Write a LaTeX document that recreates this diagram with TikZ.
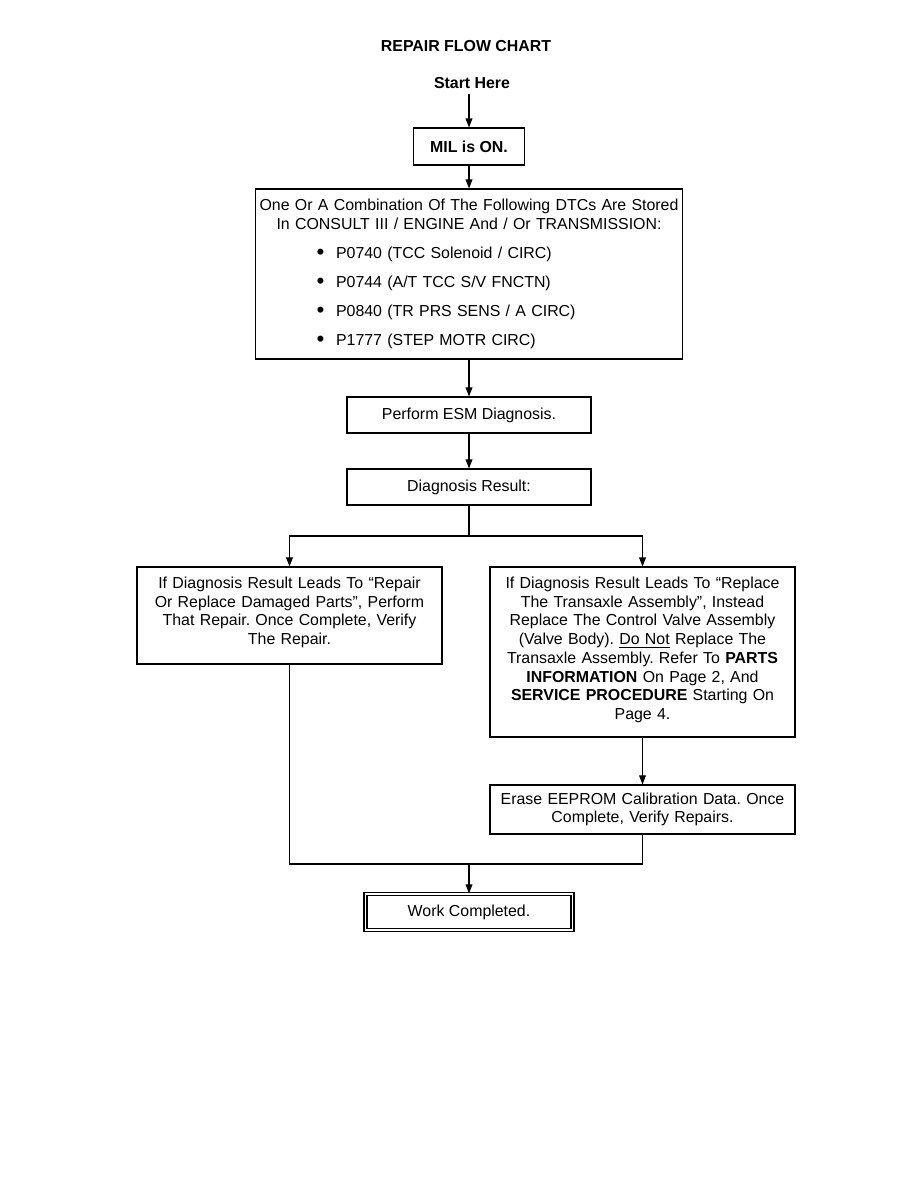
\documentclass[tikz,border=0pt]{standalone}
\usepackage{fontspec}
\setmainfont{Liberation Sans}
\usetikzlibrary{arrows.meta}
\frenchspacing
\begin{document}
\begin{tikzpicture}[node distance=48pt, >={Triangle[length=6pt,width=4.5pt]}, line width=0.75pt, every node/.style={font=\fontsize{10.6}{12.5}\selectfont}]
    \tikzstyle{box} = [rectangle, draw, text centered, inner sep=2pt]
    \tikzstyle{textbox} = [rectangle, draw, text width=200pt, align=center, inner xsep=1.65pt, inner ysep=2pt]
    \tikzstyle{dtcbox} = [rectangle, draw, text width=283pt, inner xsep=0.85pt, inner ysep=2pt]
    \useasboundingbox (0pt,0pt) rectangle (612pt,-792pt);
    \node (title) at (310.67pt,-30.67pt) {\textbf{REPAIR FLOW CHART}};
    \node (start) [below of=title, node distance=24.67pt, xshift=4pt] {\textbf{Start Here}};
    \node (mil) [box, below of=start, node distance=42.33pt, xshift=-2pt, minimum width=74pt, minimum height=24.67pt] {\textbf{MIL is ON.}};
    \node (dtcs) [dtcbox, below of=mil, node distance=85pt, minimum height=113.3pt] {\centering One Or A Combination Of The Following DTCs Are Stored\\In CONSULT III / ENGINE And / Or TRANSMISSION:\par
        \leftskip=39.9pt\rightskip=0pt plus 1fil
        \vspace{6.83pt}\makebox[13pt][l]{\raisebox{-0.8pt}{\scalebox{1.4}{\textbullet}}}P0740 (TCC Solenoid / CIRC)\par
        \vspace{6.83pt}\makebox[13pt][l]{\raisebox{-0.8pt}{\scalebox{1.4}{\textbullet}}}P0744 (A/T TCC S/V FNCTN)\par
        \vspace{6.83pt}\makebox[13pt][l]{\raisebox{-0.8pt}{\scalebox{1.4}{\textbullet}}}P0840 (TR PRS SENS / A CIRC)\par
        \vspace{6.83pt}\makebox[13pt][l]{\raisebox{-0.8pt}{\scalebox{1.4}{\textbullet}}}P1777 (STEP MOTR CIRC)\par};
    \node (esm) [box, below of=dtcs, node distance=94pt, minimum width=162.7pt, minimum height=24pt] {Perform ESM Diagnosis.};
    \node (result) [box, below of=esm, minimum width=162.7pt, minimum height=24pt] {Diagnosis Result:};
    % the two outcomes of the diagnosis
    \node (repair) [textbox, below of=result, node distance=85.67pt, xshift=-119.67pt, minimum height=64.7pt] {If Diagnosis Result Leads To “Repair\\Or Replace Damaged Parts”, Perform\\That Repair. Once Complete, Verify\\The Repair.\rule[-6.5pt]{0pt}{6.5pt}};
    \node (replace) [textbox, below of=result, node distance=110pt, xshift=115.67pt, minimum height=113.3pt] {If Diagnosis Result Leads To “Replace\\The Transaxle Assembly”, Instead\\Replace The Control Valve Assembly\\(Valve Body). \underline{Do Not} Replace The\\Transaxle Assembly. Refer To \textbf{PARTS}\\\textbf{INFORMATION} On Page 2, And\\\textbf{SERVICE PROCEDURE} Starting On\\Page 4.\rule[-5.1pt]{0pt}{5.1pt}};
    \node (erase) [textbox, below of=replace, node distance=105pt, minimum height=32.7pt] {Erase EEPROM Calibration Data. Once\\Complete, Verify Repairs.};
    \node (done) [box, double, double distance=1.2pt, line width=0.75pt, below of=result, node distance=283.3pt, minimum width=138pt, minimum height=24pt] {Work Completed.};
    \coordinate [below of=result, node distance=32.67pt] (split);
    \coordinate [below of=result, node distance=251.33pt] (join);

    \draw [->] (start.south -| mil.north) -- (mil.north);
    \draw [->] (mil) -- (dtcs);
    \draw [->] (dtcs) -- (esm);
    \draw [->] (esm) -- (result);
    \draw (result) -- (split);
    \draw [->] (split) -| (repair);
    \draw [->] (split) -| (replace);
    \draw [->] (replace) -- (erase);
    \draw (repair) |- (join);
    \draw (erase) |- (join);
    \draw [->] (join) -- (done);

    \end{tikzpicture}
\end{document}
